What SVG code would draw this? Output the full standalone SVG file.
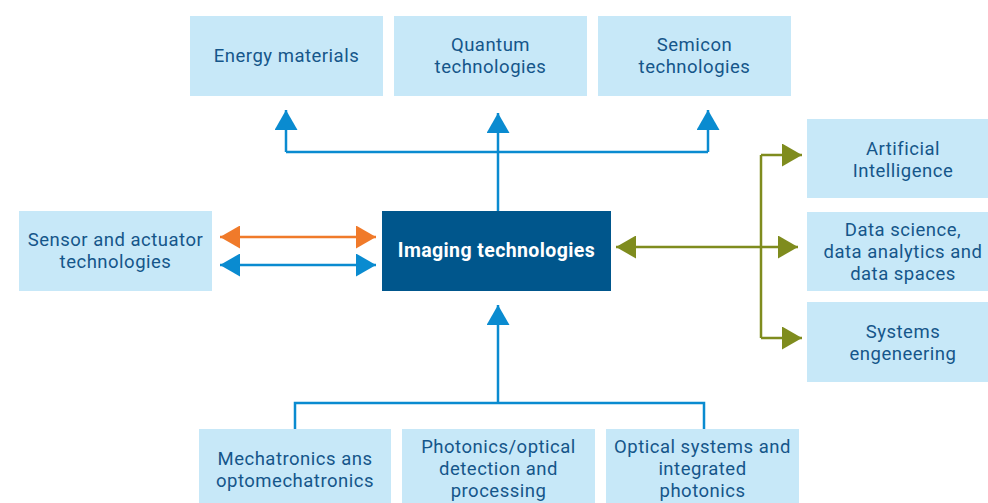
<svg xmlns="http://www.w3.org/2000/svg" width="988" height="503" viewBox="0 0 988 503">
<style>
.box{fill:#c7e8f8}
.main{fill:#00568c}
.t{font-family:Roboto,"Noto Sans",sans-serif;font-size:18.5px;letter-spacing:0.5px;fill:#15568a;text-anchor:middle}
.tm{font-family:Roboto,"Noto Sans",sans-serif;font-size:19.5px;letter-spacing:0.4px;font-weight:bold;fill:#ffffff;text-anchor:middle}
.cb{fill:none;stroke:#0a8bd0;stroke-width:2.5}
.co{fill:none;stroke:#f07a2a;stroke-width:2.5}
.cg{fill:none;stroke:#7f8c1e;stroke-width:2.5}
</style>
<defs>
<marker id="ab" markerUnits="userSpaceOnUse" markerWidth="20" markerHeight="23" refX="20" refY="11.5" orient="auto-start-reverse"><path d="M0,0 L20,11.5 L0,23 z" fill="#0a8bd0"/></marker>
<marker id="ao" markerUnits="userSpaceOnUse" markerWidth="20" markerHeight="23" refX="20" refY="11.5" orient="auto-start-reverse"><path d="M0,0 L20,11.5 L0,23 z" fill="#f07a2a"/></marker>
<marker id="ag" markerUnits="userSpaceOnUse" markerWidth="20" markerHeight="23" refX="20" refY="11.5" orient="auto-start-reverse"><path d="M0,0 L20,11.5 L0,23 z" fill="#7f8c1e"/></marker>
</defs>
<rect width="988" height="503" fill="#ffffff"/>
<g id="connectors">
<path class="cb" d="M286,152 V110" marker-end="url(#ab)"/>
<path class="cb" d="M286,152 H708"/>
<path class="cb" d="M708,152 V110" marker-end="url(#ab)"/>
<path class="cb" d="M498,211 V113" marker-end="url(#ab)"/>
<path class="co" d="M220,237 H376" marker-start="url(#ao)" marker-end="url(#ao)"/>
<path class="cb" d="M220,265 H376" marker-start="url(#ab)" marker-end="url(#ab)"/>
<path class="cg" d="M616,247 H798" marker-start="url(#ag)" marker-end="url(#ag)"/>
<path class="cg" d="M761,155 V338"/>
<path class="cg" d="M761,155 H802" marker-end="url(#ag)"/>
<path class="cg" d="M761,338 H802" marker-end="url(#ag)"/>
<path class="cb" d="M498,403 V305" marker-end="url(#ab)"/>
<path class="cb" d="M295,429 V403 H704 V429"/>
</g>
<g id="energy"><rect class="box" x="190" y="16" width="193" height="80"/><text class="t" x="286.5" y="62">Energy materials</text></g>
<g id="quantum"><rect class="box" x="394" y="16" width="193" height="80"/><text class="t" x="490.5" y="51">Quantum</text><text class="t" x="490.5" y="73">technologies</text></g>
<g id="semicon"><rect class="box" x="598" y="16" width="193" height="80"/><text class="t" x="694.5" y="51">Semicon</text><text class="t" x="694.5" y="73">technologies</text></g>
<g id="sensor"><rect class="box" x="19" y="211" width="193" height="80"/><text class="t" x="115.5" y="246">Sensor and actuator</text><text class="t" x="115.5" y="268">technologies</text></g>
<g id="imaging"><rect class="main" x="382" y="211" width="229" height="80"/><text class="tm" x="496.5" y="257">Imaging technologies</text></g>
<g id="ai"><rect class="box" x="807" y="119" width="193" height="79"/><text class="t" x="903" y="155">Artificial</text><text class="t" x="903" y="177">Intelligence</text></g>
<g id="data"><rect class="box" x="807" y="212" width="193" height="79"/><text class="t" x="903" y="236">Data science,</text><text class="t" x="903" y="258">data analytics and</text><text class="t" x="903" y="280">data spaces</text></g>
<g id="systems"><rect class="box" x="807" y="302" width="193" height="80"/><text class="t" x="903" y="338">Systems</text><text class="t" x="903" y="360">engeneering</text></g>
<g id="mechatronics"><rect class="box" x="199" y="429" width="192" height="80"/><text class="t" x="295" y="465">Mechatronics ans</text><text class="t" x="295" y="487">optomechatronics</text></g>
<g id="photonics"><rect class="box" x="402" y="429" width="193" height="80"/><text class="t" x="498.5" y="453">Photonics/optical</text><text class="t" x="498.5" y="475">detection and</text><text class="t" x="498.5" y="497">processing</text></g>
<g id="optical"><rect class="box" x="606" y="429" width="193" height="80"/><text class="t" x="702.5" y="453">Optical systems and</text><text class="t" x="702.5" y="475">integrated</text><text class="t" x="702.5" y="497">photonics</text></g>
</svg>
